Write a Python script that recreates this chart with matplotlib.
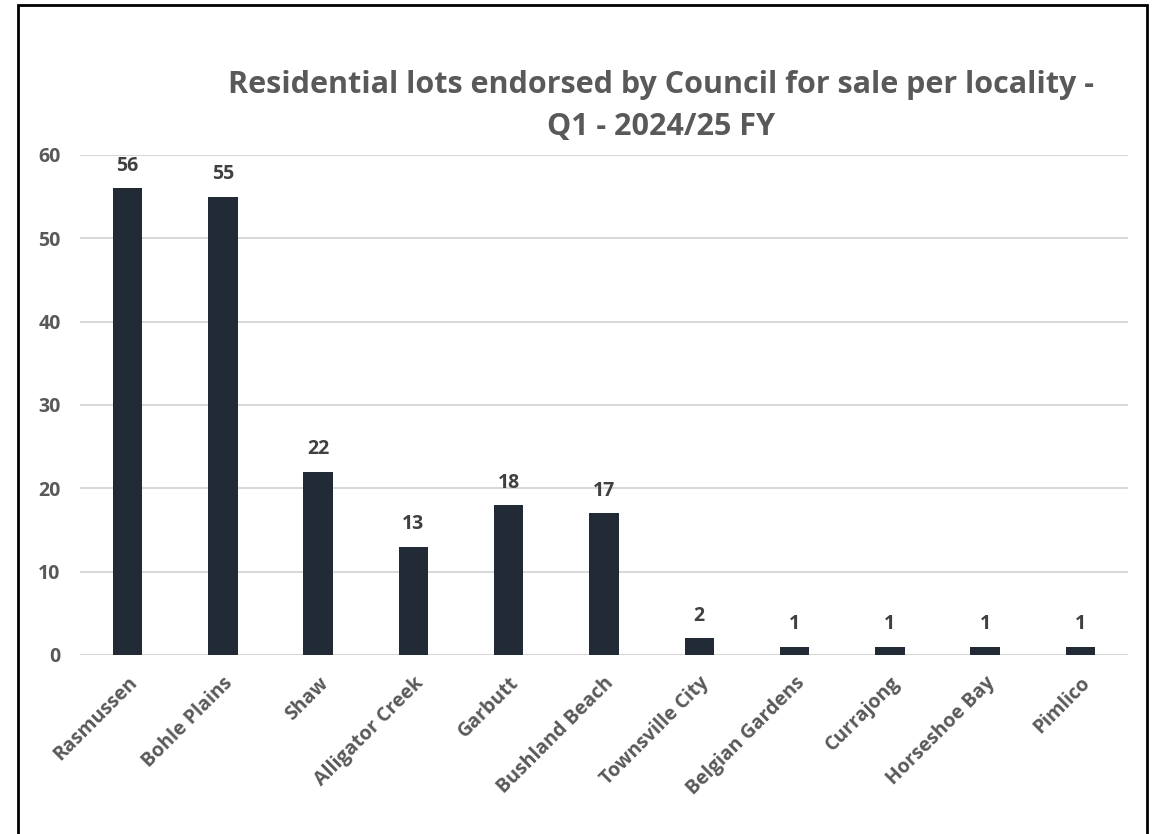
import matplotlib
matplotlib.use("Agg")
import matplotlib.pyplot as plt
from matplotlib.patches import Rectangle

localities = ["Rasmussen", "Bohle Plains", "Shaw", "Alligator Creek", "Garbutt",
              "Bushland Beach", "Townsville City", "Belgian Gardens", "Currajong",
              "Horseshoe Bay", "Pimlico"]
lots = [56, 55, 22, 13, 18, 17, 2, 1, 1, 1, 1]
yticks = [0, 10, 20, 30, 40, 50, 60]
title = "Residential lots endorsed by Council for sale per locality -\nQ1 - 2024/25 FY"

plt.rcParams['font.family'] = ['Open Sans', 'DejaVu Sans']
W, H = 1165, 834
fig = plt.figure(figsize=(W / 100, H / 100), dpi=100)
fig.patch.set_facecolor("white")

ax = fig.add_axes([80 / W, 1 - 655 / H, (1128 - 80) / W, 500 / H])
x = list(range(len(localities)))
ax.bar(x, lots, width=0.31, color="#222a35", zorder=3)
ax.set_xlim(-0.5, len(localities) - 0.5)
ax.set_ylim(0, 60)
ax.set_yticks(yticks)
ax.yaxis.grid(True, color="#d9d9d9", linewidth=1.5, zorder=0)
ax.set_axisbelow(True)
for s in ax.spines.values():
    s.set_visible(False)
ax.tick_params(axis="both", length=0)
ax.tick_params(axis="y", pad=14)
ax.set_yticklabels([str(t) for t in yticks], fontsize=14, fontweight="bold", color="#595959")
ax.set_xticks(x)
ax.set_xticklabels(localities, rotation=45, ha="right", rotation_mode="anchor",
                   fontsize=14, fontweight="bold", color="#595959")
ax.tick_params(axis="x", pad=13)

for xi, v in zip(x, lots):
    ax.annotate(str(v), (xi, v), xytext=(0, 9), textcoords="offset points",
                ha="center", va="bottom", fontsize=14, fontweight="bold", color="#404040")

fig.text(661 / W, 1 - 106 / H, title, ha="center", va="center", fontsize=22,
         fontweight="bold", color="#595959", linespacing=1.55)

frame = Rectangle((18 / W, -0.05), (1147 - 18) / W, 1 - 5 / H + 0.05,
                  transform=fig.transFigure, fill=False, edgecolor="black",
                  linewidth=2, clip_on=False)
fig.patches.append(frame)

fig.savefig("out.png", dpi=100, facecolor="white")
